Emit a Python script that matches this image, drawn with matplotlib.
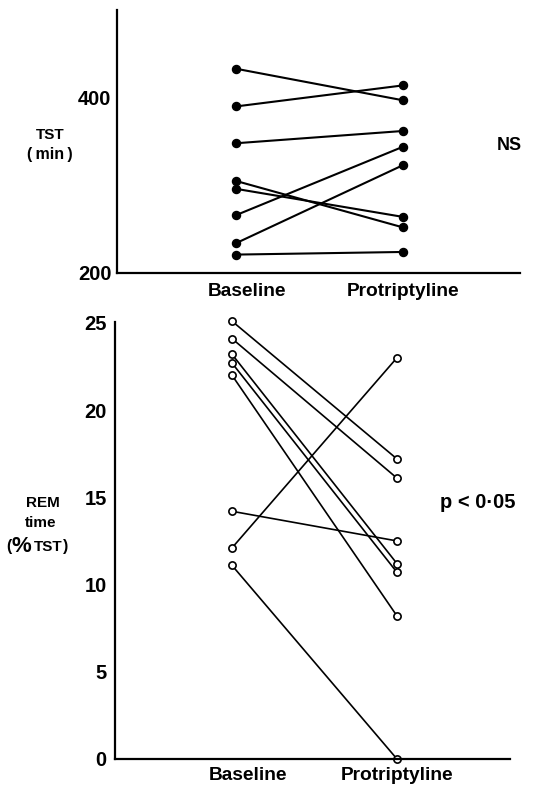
import matplotlib
matplotlib.use('Agg')
import matplotlib.pyplot as plt

# TST (min), one entry per subject
tst_baseline = [433, 390, 348, 305, 296, 266, 234, 221]
tst_protrip = [397, 414, 362, 252, 264, 344, 323, 224]

# REM time (% TST)
rem_baseline = [25.1, 24.1, 23.2, 22.7, 22.0, 14.2, 12.1, 11.1]
rem_protrip = [17.2, 16.1, 11.2, 10.7, 8.2, 12.5, 23.0, 0.0]

conditions = ['Baseline', 'Protriptyline']
tst_ticks = [200, 400]
rem_ticks = [0, 5, 10, 15, 20, 25]

FONT = 'Liberation Sans'
W, H = 540, 785

fig = plt.figure(figsize=(W / 100, H / 100), dpi=100)


def px_axes(x0, x1, y0, y1):
    return fig.add_axes([x0 / W, 1 - y1 / H, (x1 - x0) / W, (y1 - y0) / H])


def label(x, y, s, size, ha='center'):
    fig.text(x / W, 1 - y / H, s, ha=ha, va='center', fontsize=size,
             fontweight='bold', family=FONT)


def style(ax):
    for s in ['top', 'right']:
        ax.spines[s].set_visible(False)
    for s in ['left', 'bottom']:
        ax.spines[s].set_linewidth(1.6)
    ax.tick_params(length=0)


# top panel: TST
ax1 = px_axes(117, 520, 10, 273)
for b, p in zip(tst_baseline, tst_protrip):
    ax1.plot([0, 1], [b, p], color='black', lw=1.5, marker='o', ms=5.8,
             mfc='black', mec='black', clip_on=False)
ax1.set_xlim(-0.713, 1.701)
ax1.set_ylim(200, 500)
ax1.set_yticks(tst_ticks)
ax1.set_yticklabels([str(t) for t in tst_ticks], fontsize=14.5,
                    fontweight='bold', family=FONT)
ax1.tick_params(axis='y', pad=4)
ax1.set_xticks([0.066, 1.0])
ax1.set_xticklabels(conditions, fontsize=13.8, fontweight='bold', family=FONT)
ax1.tick_params(axis='x', pad=7)
style(ax1)
label(50, 135, 'TST', 11)
label(50, 154, '(\u2009min\u2009)', 11.5)
label(497, 145, 'NS', 13, ha='left')

# bottom panel: REM time
ax2 = px_axes(115, 510, 322, 759)
for b, p in zip(rem_baseline, rem_protrip):
    ax2.plot([0, 1], [b, p], color='black', lw=1.2, marker='o', ms=5.2,
             mfc='white', mec='black', mew=1.2, clip_on=False)
ax2.set_xlim(-0.709, 1.685)
ax2.set_ylim(0, 25.05)
ax2.set_yticks(rem_ticks)
ax2.set_yticklabels([str(t) for t in rem_ticks], fontsize=14.5,
                    fontweight='bold', family=FONT)
ax2.tick_params(axis='y', pad=6)
ax2.set_xticks([0.097, 1.0])
ax2.set_xticklabels(conditions, fontsize=13.8, fontweight='bold', family=FONT)
ax2.tick_params(axis='x', pad=6)
style(ax2)
label(43, 503, 'REM', 11)
label(41, 523, 'time', 11)
label(6, 547, '(', 11.5, ha='left')
label(12, 547, '%', 16, ha='left')
label(34, 547, 'TST', 11, ha='left')
label(63, 547, ')', 11.5, ha='left')
label(440, 502, 'p < 0·05', 14.5, ha='left')

fig.savefig('out.png', dpi=100)
